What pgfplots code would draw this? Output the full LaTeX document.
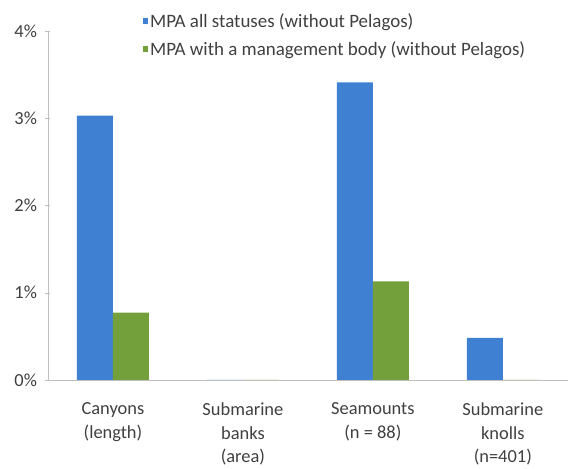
\documentclass[border=0pt]{standalone}
\usepackage{pgfplots}
\pgfplotsset{compat=1.18}
\usepackage{fontspec}
\setmainfont{Carlito}
\definecolor{barblue}{HTML}{3F80D2}
\definecolor{bargreen}{HTML}{74A03C}
\definecolor{txt}{HTML}{404040}
\definecolor{axgray}{HTML}{BFBFBF}
\begin{document}
\begin{tikzpicture}
\begin{axis}[
  scale only axis,
  width=520bp, height=349bp,
  ybar=0pt, bar width=36bp,
  xmin=-0.5, xmax=3.5,
  ymin=0, ymax=4,
  xtick={0,1,2,3},
  xticklabels={{Canyons\\(length)},{Submarine\\banks\\(area)},{Seamounts\\(n = 88)},{Submarine\\knolls\\(n=401)}},
  xticklabel style={align=center, font=\fontsize{18.5}{23.5}\selectfont, text=txt, yshift=-17bp},
  x tick style={draw=none},
  ytick={0,1,2,3,4},
  yticklabel={\pgfmathprintnumber{\tick}\%},
  yticklabel style={font=\fontsize{18.5}{22}\selectfont, text=txt, xshift=-5bp},
  /pgf/number format/assume math mode=true,
  y tick style={axgray},
  major tick length=5bp,
  tick align=outside,
  axis x line=bottom, axis y line=left,
  axis line style={axgray, -},
  legend style={at={(0.177,1.063)}, anchor=north west, draw=none, fill=none,
    font=\fontsize{19}{23}\selectfont, text=txt, row sep=9bp,
    legend cell align=left},
  legend image code/.code={\fill[#1] (0bp,-3bp) rectangle (5bp,3bp);},
]
\addplot[fill=barblue, draw=none] coordinates {(0,3.03) (1,0) (2,3.41) (3,0.48)};
\addplot[fill=bargreen, draw=none] coordinates {(0,0.77) (1,0) (2,1.13) (3,0)};
\legend{MPA all statuses (without Pelagos), MPA with a management body (without Pelagos)}
\end{axis}
\path (current axis.south west) ++(-48bp,-88bp) coordinate (bl);
\path (current axis.north east) ++(0bp,31bp) coordinate (tr);
\path (bl) rectangle (tr);
\end{tikzpicture}
\end{document}
